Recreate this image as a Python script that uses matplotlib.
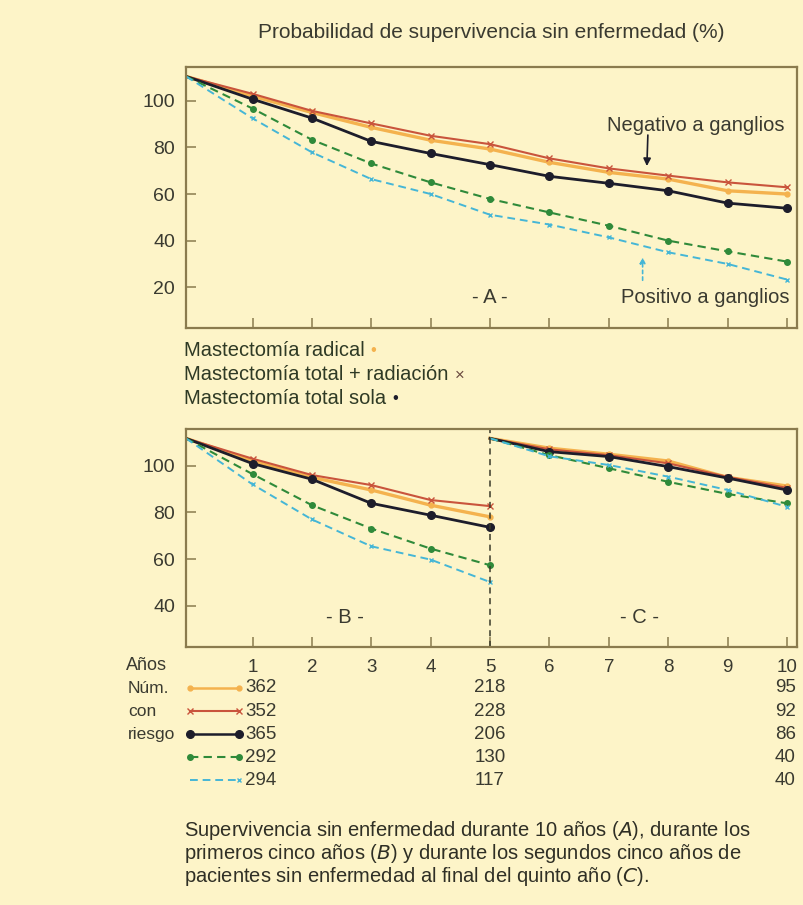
import matplotlib
matplotlib.use('Agg')
import matplotlib.pyplot as plt
import numpy as np
from matplotlib.lines import Line2D

plt.rcParams['font.family'] = ['Liberation Sans', 'DejaVu Sans']

# --- data ---
years = np.arange(0, 11)
# panel A (10 years)
a_radical = [110.5, 102, 95, 88.6, 83.1, 79.3, 73.6, 69.3, 66.4, 61.4, 60]
a_total_rad = [110.5, 103, 95.7, 90.3, 85, 81.4, 75.3, 71, 67.9, 65, 62.9]
a_total_sola = [110.5, 100.7, 92.6, 82.6, 77.4, 72.6, 67.6, 64.6, 61.4, 56.1, 53.9]
a_pos_dot = [110.5, 96.7, 83.3, 73.1, 65, 57.9, 52.1, 46.4, 40, 35.4, 31]
a_pos_x = [110.5, 92.5, 77.9, 66.4, 60, 51.1, 46.9, 41.4, 35, 30, 23.3]

# panel B (years 0-5)
b_years = np.arange(0, 6)
b_radical = [111.7, 102, 95, 89.6, 83.1, 78.1]
b_total_rad = [111.7, 103, 96, 91.7, 85.3, 82.7]
b_total_sola = [111.7, 100.9, 94.2, 83.9, 78.8, 73.6]
b_pos_dot = [111.7, 96.4, 83.1, 73.1, 64.5, 57.4]
b_pos_x = [111.7, 92, 77, 65.5, 59.8, 50.2]

# panel C (years 5-10)
c_years = np.arange(5, 11)
c_radical = [111.7, 107.5, 104.9, 102, 95, 91.3]
c_total_rad = [111.7, 107, 104.5, 101, 95.2, 90.5]
c_total_sola = [111.7, 106, 103.9, 99.6, 94.7, 89.6]
c_pos_dot = [111.7, 104.5, 98.9, 93.1, 87.9, 83.9]
c_pos_x = [111.7, 104, 100.3, 95.3, 89.6, 82.4]

riesgo_y0 = [362, 352, 365, 292, 294]
riesgo_y5 = [218, 228, 206, 130, 117]
riesgo_y10 = [95, 92, 86, 40, 40]

bg = '#fdf4c8'
spine = '#8a7b4e'
txt = '#3a3a30'
c_or = '#f4b24e'
c_red = '#c9543c'
c_blk = '#1d1d2b'
c_grn = '#2f8a3a'
c_cyn = '#45b6d6'

styles = [
    dict(color=c_or, ls='-', lw=2.4, marker='o', ms=3.5),
    dict(color=c_red, ls='-', lw=1.5, marker='x', ms=4, mew=1.0),
    dict(color=c_blk, ls='-', lw=2.0, marker='o', ms=5.5),
    dict(color=c_grn, ls='--', lw=1.5, marker='o', ms=4, dashes=(4, 2.5)),
    dict(color=c_cyn, ls='--', lw=1.4, marker='x', ms=3.5, mew=1.0, dashes=(4, 2.5)),
]

W, H = 804, 905
XL = (-0.12, 10.17)
fig = plt.figure(figsize=(W / 100, H / 100), dpi=100, facecolor=bg)


def fx(px):
    return px / W


def fy(py):
    return 1 - py / H


def style_axes(ax, ylim, yticks):
    ax.set_facecolor(bg)
    ax.set_xlim(*XL)
    ax.set_ylim(*ylim)
    ax.set_yticks(yticks)
    ax.set_xticks(range(1, 11))
    for s in ax.spines.values():
        s.set_color(spine)
        s.set_linewidth(1.6)
    ax.tick_params(direction='in', length=7, width=1.1, color=spine,
                   labelcolor=txt)
    ax.tick_params(axis='y', pad=8, labelsize=14)
    ax.tick_params(axis='x', pad=9, labelsize=13.5)


def draw(ax, xs, series):
    # first point sits on the panel edge / divider, drawn without marker
    for ys, st in zip(series, styles):
        ax.plot(xs, ys, markevery=slice(1, None), **st)


# top panel A
axA = fig.add_axes([fx(186), fy(328), fx(797 - 186), (328 - 67.5) / H])
style_axes(axA, (2.5, 114.3), [20, 40, 60, 80, 100])
axA.set_xticklabels([])
draw(axA, np.r_[XL[0], years[1:]], [a_radical, a_total_rad, a_total_sola, a_pos_dot, a_pos_x])
axA.text(8.47, 89.6, 'Negativo a ganglios', ha='center', va='center', fontsize=14.5, color=txt)
axA.annotate('', xy=(7.64, 70.8), xytext=(7.66, 86.5),
             arrowprops=dict(arrowstyle='-|>', color=c_blk, lw=1.2, mutation_scale=11))
axA.text(8.62, 15.8, 'Positivo a ganglios', ha='center', va='center', fontsize=14.5, color=txt)
axA.annotate('', xy=(7.57, 34), xytext=(7.57, 21.8),
             arrowprops=dict(arrowstyle='-|>', color=c_cyn, lw=1.2, ls=(0, (2, 2)),
                             mutation_scale=8))
axA.text(4.99, 15.8, '- A -', ha='center', va='center', fontsize=14.5, color=txt)

# bottom panel B / C
axB = fig.add_axes([fx(186), fy(647), fx(797 - 186), (647 - 429) / H])
style_axes(axB, (22.4, 115.7), [40, 60, 80, 100])
draw(axB, np.r_[XL[0], b_years[1:]], [b_radical, b_total_rad, b_total_sola, b_pos_dot, b_pos_x])
draw(axB, c_years, [c_radical, c_total_rad, c_total_sola, c_pos_dot, c_pos_x])
axB.axvline(5, color='#3a3a2a', lw=1.1, ls=(0, (4, 3)))
axB.text(2.55, 35.1, '- B -', ha='center', va='center', fontsize=14.5, color=txt)
axB.text(7.51, 35.1, '- C -', ha='center', va='center', fontsize=14.5, color=txt)

# titles / legend texts
fig.text(fx(491), fy(33), 'Probabilidad de supervivencia sin enfermedad (%)',
         ha='center', va='center', fontsize=15, color=txt)
leg_rows = [('Mastectomía radical', '•', c_or),
            ('Mastectomía total + radiación', '×', '#6a4a40'),
            ('Mastectomía total sola', '•', c_blk)]
fig.canvas.draw()
for i, (lab, sym, col) in enumerate(leg_rows):
    t = fig.text(fx(184), fy(351 + 24 * i), lab, ha='left', va='center',
                 fontsize=14.5, color='#2f3a25')
    bb = t.get_window_extent(renderer=fig.canvas.get_renderer())
    fig.text((bb.x1 + 6) / W, fy(351 + 24 * i), sym, ha='left', va='center',
             fontsize=12, color=col)

fig.text(fx(126), fy(665), 'Años', ha='left', va='center', fontsize=13, color=txt)

# numbers at risk
axT = fig.add_axes([fx(186), fy(791.5), fx(797 - 186), 115 / H])
axT.set_xlim(*XL)
axT.set_ylim(5.5, 0.5)
axT.axis('off')
for i, lab in enumerate(['Núm.', 'con', 'riesgo']):
    fig.text(fx(128), fy(688 + 23 * i), lab, ha='left', va='center', fontsize=12.5, color=txt)
for i, st in enumerate(styles):
    row = i + 1
    axT.add_line(Line2D([-0.05, 0.78], [row, row], color=st['color'], ls=st['ls'],
                        lw=min(st['lw'], 1.8), clip_on=False,
                        **({'dashes': st['dashes']} if 'dashes' in st else {})))
    if i == 4:
        axT.plot([0.78], [row], marker='x', color=st['color'], ms=3.5, mew=1.0, clip_on=False)
    else:
        axT.plot([-0.05, 0.78], [row, row], ls='none', marker=st['marker'], color=st['color'],
                 ms=st['ms'], mew=st.get('mew', 1.0), clip_on=False)
    axT.text(0.88, row, str(riesgo_y0[i]), ha='left', va='center', fontsize=13.5, color=txt)
    axT.text(5.0, row, str(riesgo_y5[i]), ha='center', va='center', fontsize=13.5, color=txt)
    axT.text(10.15, row, str(riesgo_y10[i]), ha='right', va='center', fontsize=13.5, color=txt)

caption = ['Supervivencia sin enfermedad durante 10 años ($\\it{A}$), durante los',
           'primeros cinco años ($\\it{B}$) y durante los segundos cinco años de',
           'pacientes sin enfermedad al final del quinto año ($\\it{C}$).']
for i, line in enumerate(caption):
    fig.text(fx(184), fy(830 + 23 * i), line, ha='left', va='center', fontsize=14.5,
             color='#2f2f25')

fig.savefig('out.png', dpi=100, facecolor=bg)
